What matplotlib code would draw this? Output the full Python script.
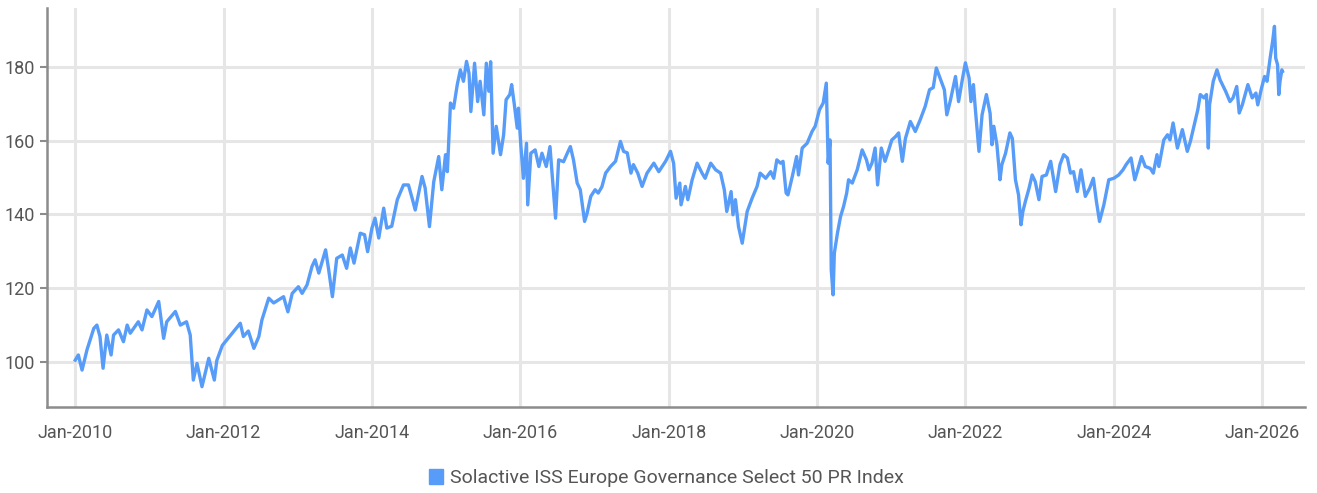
import numpy as np
import pandas as pd
import matplotlib
matplotlib.use("Agg")
import matplotlib.pyplot as plt
import matplotlib.dates as mdates
import matplotlib.patches as mpatches

# months since Jan-2010 and index level
months = [
    0.0, 0.5, 1.1, 1.9, 3.0, 3.5, 4.0, 4.5, 5.1, 5.8, 6.2, 7.0, 7.8, 8.4, 8.9,
    10.2, 10.8, 11.6, 12.4, 13.5, 14.3, 14.8, 16.2, 17.0, 18.0, 18.6, 19.1,
    19.7, 20.5, 21.6, 22.5, 22.9, 23.8, 26.7, 27.2, 28.0, 28.9, 29.7, 30.2,
    30.7, 31.3, 32.1, 33.7, 34.4, 35.1, 36.1, 36.7, 37.5, 38.3, 38.8, 39.4,
    40.5, 41.0, 41.6, 42.3, 43.2, 43.9, 44.5, 45.1, 46.1, 46.8, 47.3, 48.0,
    48.5, 49.1, 49.9, 50.4, 51.2, 52.1, 53.1, 53.9, 54.5, 55.0, 56.1, 56.6,
    57.3, 58.0, 58.8, 59.3, 59.9, 60.2, 60.7, 61.2, 61.8, 62.3, 62.8, 63.3,
    63.7, 64.0, 64.6, 65.1, 65.5, 66.1, 66.5, 66.9, 67.2, 67.6, 68.1, 68.8,
    69.3, 69.7, 70.3, 70.6, 71.0, 71.5, 71.7, 72.1, 72.5, 73.0, 73.2, 73.7,
    74.4, 75.0, 75.5, 76.2, 76.8, 77.3, 77.7, 78.2, 79.0, 79.6, 80.1, 80.6,
    81.2, 81.7, 82.4, 82.8, 83.4, 84.1, 84.6, 85.2, 85.8, 86.6, 87.4, 88.2,
    88.7, 89.3, 89.9, 90.3, 91.0, 91.7, 92.5, 93.6, 94.4, 95.5, 96.3, 96.8,
    97.2, 97.8, 98.0, 98.7, 99.1, 99.8, 100.6, 101.4, 101.9, 102.8, 103.6,
    104.4, 105.0, 105.4, 106.1, 106.4, 106.8, 107.3, 107.9, 108.7, 109.5,
    110.3, 110.8, 111.7, 112.5, 113.0, 113.5, 114.1, 114.5, 115.0, 115.3,
    116.0, 116.7, 117.0, 117.6, 118.4, 119.2, 119.7, 120.4, 121.0, 121.5,
    121.8, 122.1, 122.3, 122.6, 122.8, 123.3, 123.8, 124.3, 124.8, 125.1,
    125.7, 126.5, 127.3, 128.0, 128.4, 128.9, 129.4, 129.8, 130.4, 131.0,
    131.6, 132.1, 132.7, 133.2, 133.8, 134.3, 135.1, 135.9, 136.7, 137.5,
    138.2, 138.8, 139.3, 140.0, 140.6, 141.0, 141.6, 142.4, 142.9, 143.5,
    144.0, 144.6, 144.9, 145.3, 145.6, 146.2, 146.7, 147.4, 148.0, 148.3,
    148.6, 149.1, 149.6, 149.9, 150.5, 151.2, 151.6, 152.1, 152.6, 153.0,
    153.3, 153.7, 154.3, 154.8, 155.3, 155.9, 156.4, 157.1, 157.8, 158.6,
    159.3, 159.9, 160.5, 161.0, 161.5, 162.1, 162.7, 163.4, 164.1, 164.7,
    165.2, 165.7, 166.4, 167.2, 168.0, 168.8, 169.5, 170.0, 170.8, 171.4,
    171.8, 172.5, 173.1, 173.9, 174.4, 175.0, 175.3, 176.1, 176.7, 177.1,
    177.6, 178.3, 179.1, 179.9, 180.4, 181.1, 181.6, 182.0, 182.6, 183.0,
    183.3, 183.5, 184.1, 184.7, 185.2, 186.1, 186.8, 187.3, 187.9, 188.3,
    188.8, 189.7, 190.4, 191.0, 191.3, 191.9, 192.4, 192.8, 193.3, 193.7,
    194.0, 194.2, 194.5, 194.7, 194.9, 195.2, 195.3,
]
level = [
    100.5, 101.9, 97.8, 103.3, 109.1, 110.0, 106.9, 98.3, 107.3, 101.9, 107.3,
    108.7, 105.5, 110.0, 107.8, 110.9, 108.7, 114.1, 112.3, 116.4, 106.4,
    110.9, 113.7, 110.0, 110.9, 107.3, 95.1, 99.6, 93.3, 101.0, 95.1, 100.4,
    104.5, 110.5, 106.9, 108.4, 103.7, 106.9, 111.4, 114.1, 117.3, 116.0,
    117.7, 113.6, 118.6, 120.4, 118.6, 120.9, 125.9, 127.7, 124.1, 130.4,
    125.0, 117.7, 128.1, 129.0, 125.4, 130.9, 126.8, 134.9, 134.5, 129.9,
    136.3, 139.0, 133.6, 141.7, 136.3, 136.8, 144.0, 148.0, 148.0, 144.4,
    141.2, 150.3, 147.2, 136.7, 148.9, 155.7, 146.7, 156.2, 151.6, 170.2,
    168.8, 175.2, 179.2, 176.1, 181.5, 178.3, 167.9, 181.0, 170.6, 176.1,
    167.0, 181.0, 173.4, 181.4, 156.6, 163.9, 156.2, 161.6, 171.1, 172.5,
    175.2, 170.2, 163.4, 168.8, 158.4, 149.8, 159.3, 142.6, 156.6, 157.5,
    153.0, 156.6, 153.0, 158.4, 147.6, 139.0, 154.8, 154.3, 156.6, 158.4,
    154.8, 148.5, 146.7, 138.1, 140.3, 144.9, 146.7, 145.8, 147.5, 151.2,
    153.0, 154.4, 159.8, 157.1, 156.7, 151.2, 153.5, 151.2, 147.6, 151.2,
    153.9, 151.6, 154.4, 157.1, 153.9, 144.4, 148.5, 142.6, 147.6, 144.0,
    149.4, 153.9, 151.2, 149.8, 153.9, 152.1, 151.2, 146.7, 140.8, 146.2,
    139.9, 144.0, 136.7, 132.2, 140.8, 144.4, 147.6, 151.2, 149.8, 151.6,
    149.8, 154.8, 153.9, 154.4, 145.8, 145.3, 150.3, 155.7, 150.7, 158.0,
    159.3, 162.5, 163.9, 168.4, 170.2, 175.6, 153.9, 160.2, 125.0, 118.2,
    129.5, 134.9, 139.4, 142.2, 145.8, 149.4, 148.5, 152.1, 157.5, 154.8,
    152.1, 154.0, 158.0, 148.0, 158.0, 154.4, 157.5, 160.2, 161.1, 162.1,
    154.4, 160.6, 165.2, 162.5, 165.7, 169.3, 173.8, 174.4, 179.7, 176.5,
    173.8, 167.0, 171.1, 177.4, 170.6, 176.5, 181.1, 177.0, 170.6, 175.2,
    168.8, 157.1, 167.0, 172.5, 167.4, 158.9, 163.9, 158.9, 149.4, 153.5,
    156.6, 162.1, 160.6, 149.4, 145.3, 137.2, 140.8, 143.5, 147.1, 150.7,
    148.9, 144.0, 150.3, 150.7, 154.4, 146.2, 153.5, 156.2, 155.3, 151.2,
    151.6, 146.2, 152.1, 144.9, 147.1, 149.8, 143.5, 138.1, 142.6, 149.4,
    149.8, 150.7, 152.1, 153.5, 155.3, 149.4, 151.6, 155.7, 153.0, 152.5,
    151.2, 156.2, 153.0, 160.2, 161.6, 160.2, 164.8, 158.0, 163.0, 157.1,
    159.8, 164.8, 168.4, 172.5, 171.6, 172.5, 158.0, 169.7, 176.1, 179.2,
    176.5, 173.4, 170.6, 171.6, 174.7, 167.5, 169.7, 175.2, 171.6, 172.9,
    169.7, 174.2, 177.4, 176.1, 182.4, 186.9, 191.0, 182.4, 180.6, 172.5,
    176.1, 179.2, 178.8,
]
series_name = "Solactive ISS Europe Governance Select 50 PR Index"
y_ticks = [100, 120, 140, 160, 180]
tick_years = list(range(2010, 2027, 2))

start = pd.Timestamp("2010-01-01")
dates = start + pd.to_timedelta(np.array(months) * 30.4375, unit="D")

blue = "#569cf8"
grid_c = "#e6e6e6"
txt_c = "#555555"
plt.rcParams["font.family"] = ["Roboto", "DejaVu Sans"]

fig = plt.figure(figsize=(13.17, 4.93), dpi=100)
ax = fig.add_axes([0.0357, 0.1745, 0.9553, 0.8095])

ax.plot(dates, level, color=blue, lw=2.4, solid_joinstyle="round", zorder=3)

ax.set_ylim(87.8, 196)
ax.set_xlim(pd.Timestamp("2009-08-15"), pd.Timestamp("2026-08-01"))
ax.set_yticks(y_ticks)
ax.set_xticks([pd.Timestamp(f"{y}-01-01") for y in tick_years])
ax.xaxis.set_major_formatter(mdates.DateFormatter("%b-%Y"))

ax.grid(True, color=grid_c, lw=2.2, zorder=0)
ax.set_axisbelow(True)
for s in ["top", "right"]:
    ax.spines[s].set_visible(False)
for s in ["left", "bottom"]:
    ax.spines[s].set_color("#8c8c8c")
    ax.spines[s].set_linewidth(1.8)
ax.tick_params(axis="y", length=5, width=1.5, color="#8c8c8c", labelsize=13,
               labelcolor=txt_c, pad=4)
ax.tick_params(axis="x", length=0, labelsize=13, labelcolor=txt_c, pad=12)

handle = mpatches.Patch(color=blue, label=series_name)
fig.legend(handles=[handle], loc="center", bbox_to_anchor=(0.506, 0.03),
           frameon=False, fontsize=14, handlelength=0.75, handleheight=0.75,
           handletextpad=0.35, labelcolor=txt_c)

fig.savefig("out.png", dpi=100)
